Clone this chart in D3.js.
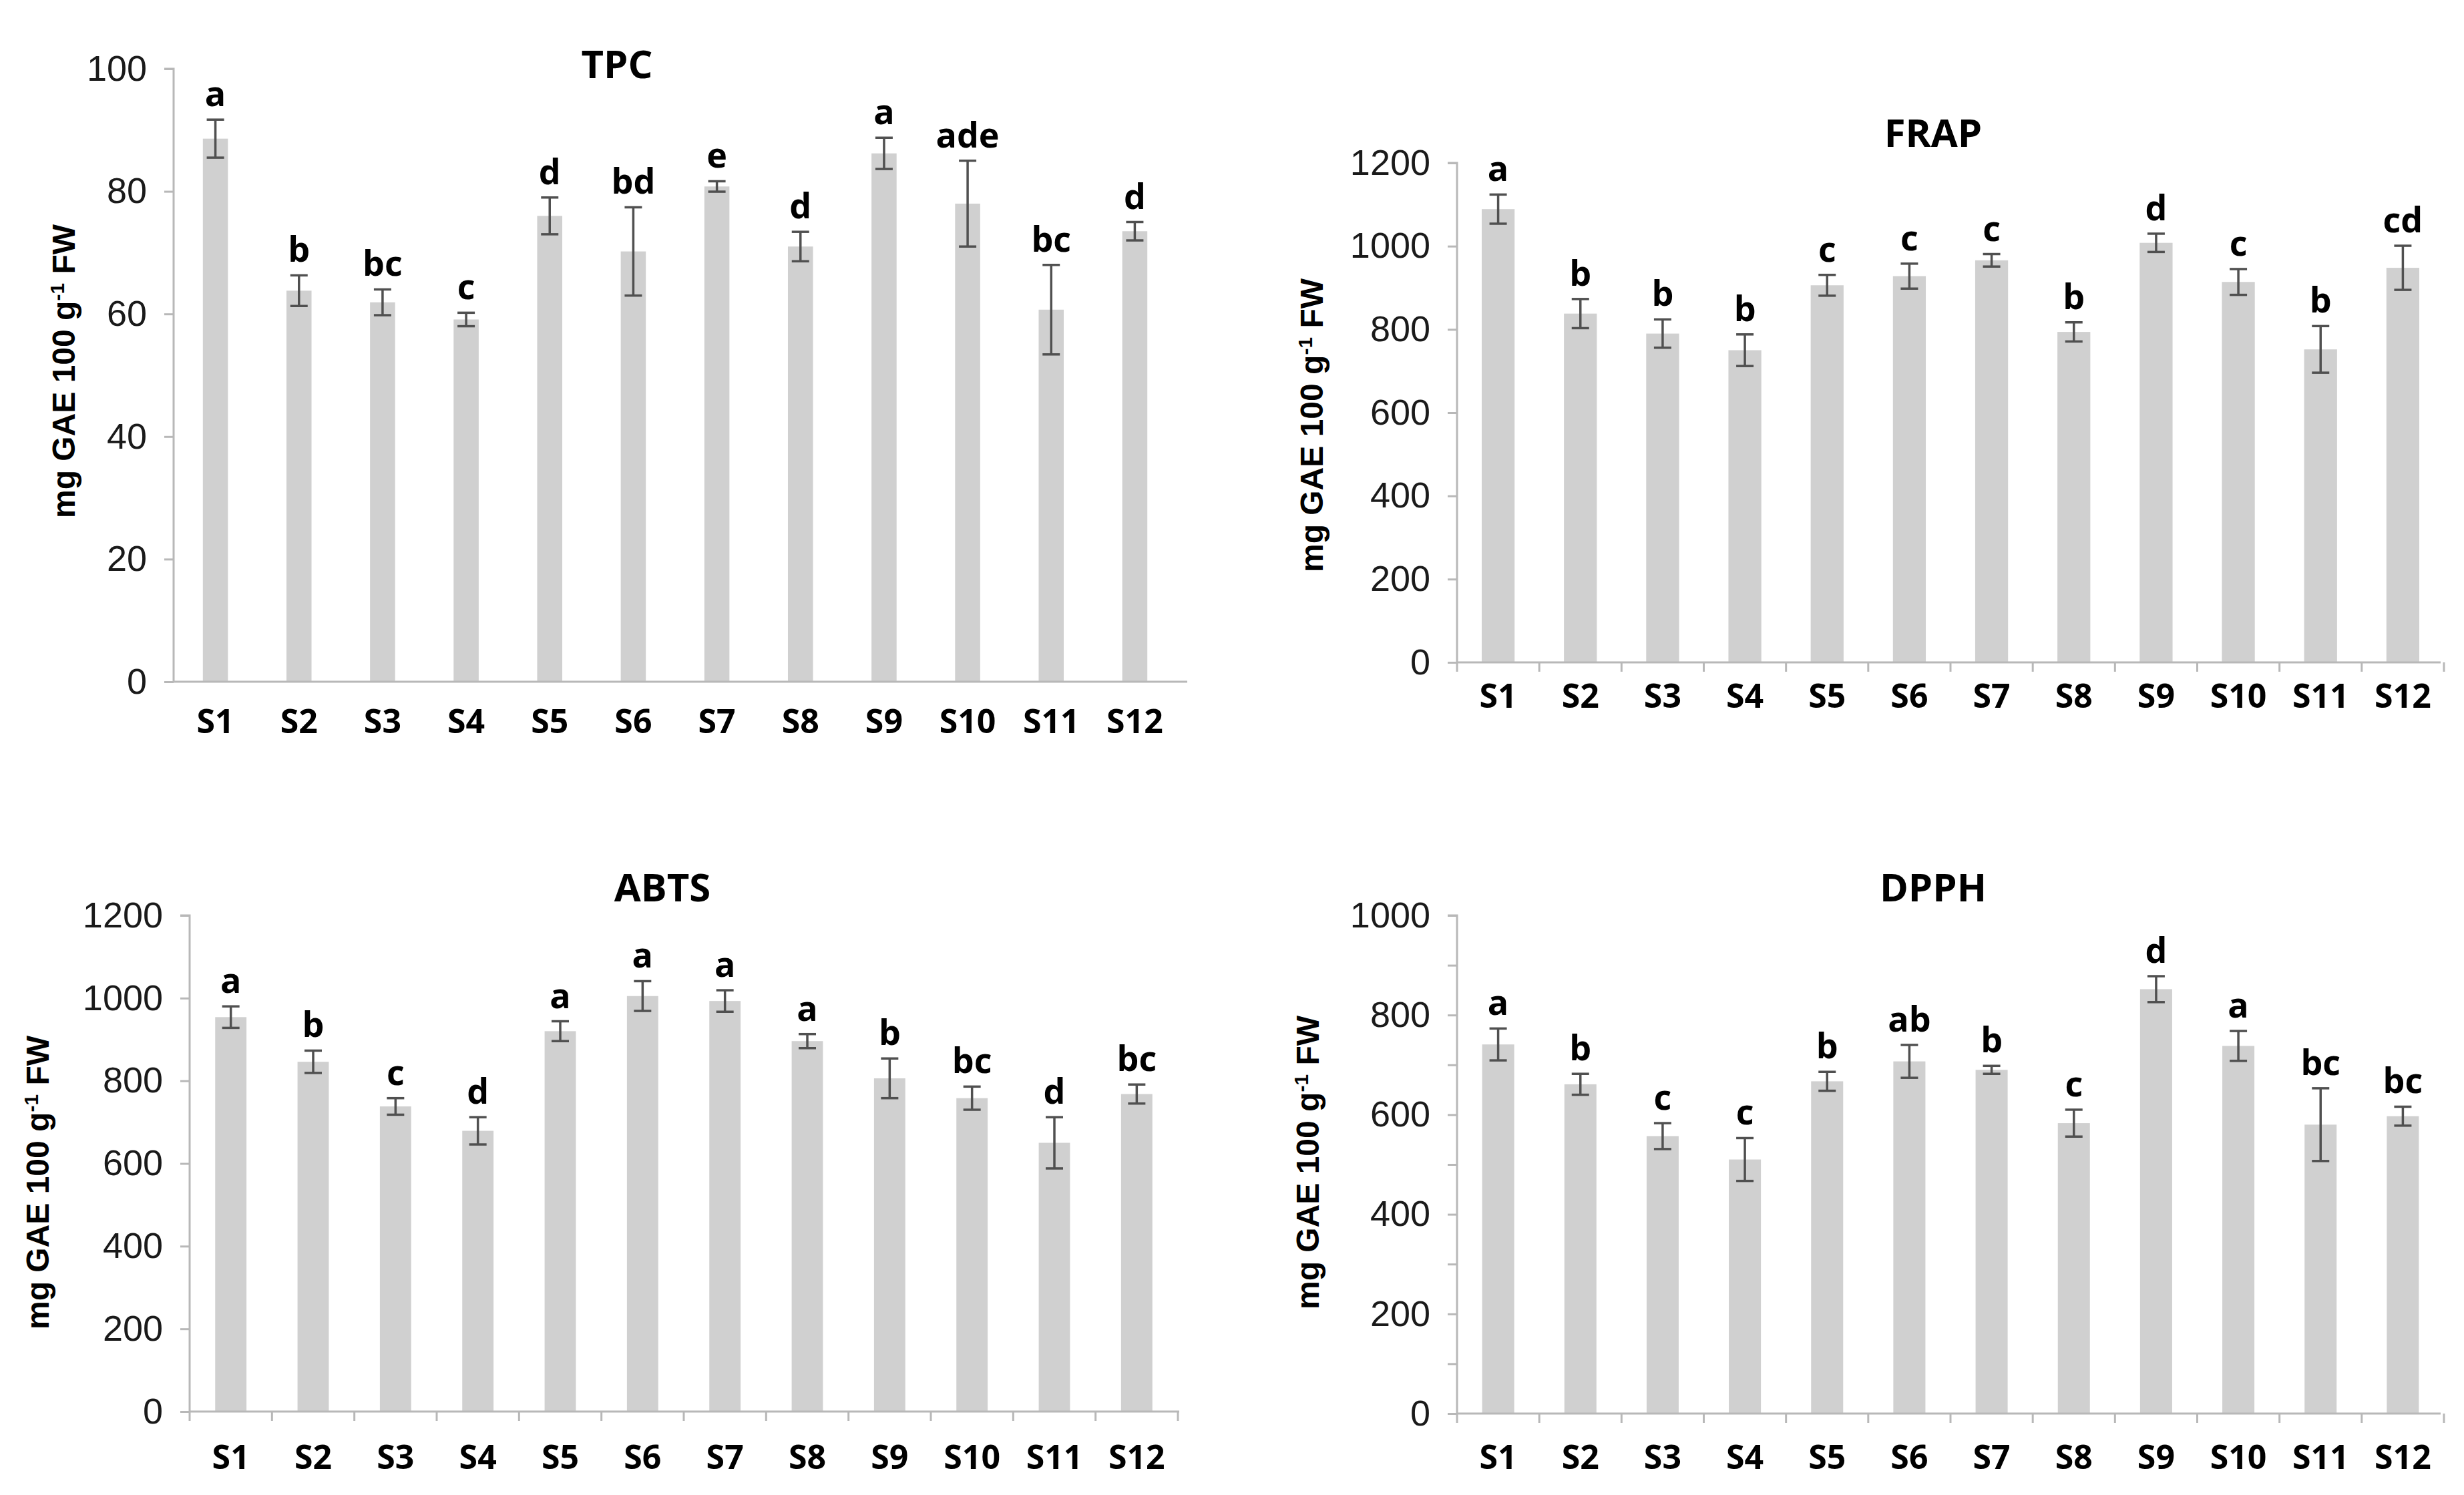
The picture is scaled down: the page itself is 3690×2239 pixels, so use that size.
<!DOCTYPE html>
<html>
<head>
<meta charset="utf-8">
<script src="https://cdn.jsdelivr.net/npm/d3@7"></script>
<style>
  html, body { margin: 0; padding: 0; background: #ffffff; }
  svg { display: block; }
</style>
</head>
<body>
<svg id="chart" width="3690" height="2239"></svg>
<script>
// ---------------- DATA ----------------
const categories = ["S1","S2","S3","S4","S5","S6","S7","S8","S9","S10","S11","S12"];

const tpcMean    = [88.6, 63.8, 61.9, 59.1, 76.0, 70.2, 80.8, 71.0, 86.2, 78.0, 60.7, 73.5];
const tpcErr     = [3.1, 2.5, 2.1, 1.1, 3.0, 7.2, 0.85, 2.4, 2.55, 7.0, 7.3, 1.5];
const tpcLetters = ["a","b","bc","c","d","bd","e","d","a","ade","bc","d"];
const tpcTicks   = [0, 20, 40, 60, 80, 100];

const frapMean    = [1089, 838, 790, 750, 906, 928, 966, 794, 1008, 914, 752, 948];
const frapErr     = [35, 35, 34, 38, 25, 30, 15, 23, 22, 31, 56, 53];
const frapLetters = ["a","b","b","b","c","c","c","b","d","c","b","cd"];
const frapTicks   = [0, 200, 400, 600, 800, 1000, 1200];

const abtsMean    = [954, 846, 738, 679, 920, 1005, 993, 896, 806, 758, 650, 768];
const abtsErr     = [26, 27, 20, 33, 24, 36, 26, 17, 48, 28, 62, 23];
const abtsLetters = ["a","b","c","d","a","a","a","a","b","bc","d","bc"];
const abtsTicks   = [0, 200, 400, 600, 800, 1000, 1200];

const dpphMean    = [741, 661, 557, 510, 667, 707, 690, 583, 852, 738, 580, 597];
const dpphErr     = [32, 21, 26, 43, 19, 33, 8, 27, 26, 30, 73, 19];
const dpphLetters = ["a","b","c","c","b","ab","b","c","d","a","bc","bc"];
const dpphTicks   = [0, 200, 400, 600, 800, 1000];
const dpphMinorTicks = [100, 300, 500, 700, 900];

const titles = ["TPC", "FRAP", "ABTS", "DPPH"];
const yTitleMain = "mg GAE 100 g";
const yTitleSup = "-1";
const yTitleEnd = " FW";

// ---------------- LAYOUT (positions / styles) ----------------
const panels = [
  { title: titles[0], mean: tpcMean, err: tpcErr, letters: tpcLetters, ticks: tpcTicks, minor: [],
    max: 100, xl: 260, xr: 1762, axisEnd: 1778, y0: 1021, yTop: 103, barFrac: 0.30,
    tx: 924, ty: 117, ytx: 95, yty: 556, xly: 1098, xTicks: false },
  { title: titles[1], mean: frapMean, err: frapErr, letters: frapLetters, ticks: frapTicks, minor: [],
    max: 1200, xl: 2182, xr: 3660, axisEnd: 3655, y0: 992, yTop: 244, barFrac: 0.40,
    tx: 2895, ty: 220, ytx: 1964, yty: 637, xly: 1060, xTicks: true },
  { title: titles[2], mean: abtsMean, err: abtsErr, letters: abtsLetters, ticks: abtsTicks, minor: [],
    max: 1200, xl: 284, xr: 1764, axisEnd: 1766, y0: 2114, yTop: 1371, barFrac: 0.38,
    tx: 992, ty: 1350, ytx: 56, yty: 1771, xly: 2200, xTicks: true },
  { title: titles[3], mean: dpphMean, err: dpphErr, letters: dpphLetters, ticks: dpphTicks, minor: dpphMinorTicks,
    max: 1000, xl: 2182, xr: 3660, axisEnd: 3655, y0: 2117, yTop: 1371, barFrac: 0.39,
    tx: 2895, ty: 1350, ytx: 1958, yty: 1741, xly: 2200, xTicks: true }
];

const BAR = "#d0d0d0";
const AXIS = "#b8b8b8";
const ERR = "#505050";
const LETTER_FONT = "'Open Sans', 'DejaVu Sans', sans-serif";
const TICK_FONT = "'Liberation Sans', Arial, sans-serif";

const svg = d3.select("#chart");

panels.forEach(p => {
  const g = svg.append("g");
  const x = d3.scaleBand().domain(categories).range([p.xl, p.xr]).paddingInner(0).paddingOuter(0);
  const y = d3.scaleLinear().domain([0, p.max]).range([p.y0, p.yTop]);
  const data = categories.map((c, i) => ({ c, m: p.mean[i], e: p.err[i], l: p.letters[i] }));
  const bw = x.bandwidth() * p.barFrac;

  // bars
  g.selectAll("rect.bar").data(data).enter().append("rect")
    .attr("class", "bar")
    .attr("x", d => x(d.c) + x.bandwidth() / 2 - bw / 2)
    .attr("width", bw)
    .attr("y", d => y(d.m))
    .attr("height", d => y(0) - y(d.m))
    .attr("fill", BAR);

  // y axis
  const yAxis = d3.axisLeft(y).tickValues(p.ticks).tickSize(14).tickPadding(26).tickFormat(d3.format("d"));
  const ya = g.append("g").attr("transform", `translate(${p.xl},0)`).call(yAxis);
  ya.select(".domain").attr("stroke", AXIS).attr("stroke-width", 3).attr("d", `M-14,${y(p.max)}H0V${y(0)}`);
  ya.selectAll(".tick line").attr("stroke", AXIS).attr("stroke-width", 3);
  ya.selectAll(".tick text").attr("font-family", TICK_FONT).attr("font-size", 54).attr("fill", "#1a1a1a");
  if (p.minor.length) {
    const ym = g.append("g").attr("transform", `translate(${p.xl},0)`)
      .call(d3.axisLeft(y).tickValues(p.minor).tickSize(14).tickFormat(""));
    ym.select(".domain").remove();
    ym.selectAll(".tick line").attr("stroke", AXIS).attr("stroke-width", 3);
  }

  // x axis
  const xAxis = d3.axisBottom(x).tickSize(0).tickPadding(0);
  const xa = g.append("g").attr("transform", `translate(0,${p.y0})`).call(xAxis);
  xa.select(".domain").attr("stroke", AXIS).attr("stroke-width", 3).attr("d", `M${p.xl},0H${p.axisEnd}`);
  xa.selectAll(".tick text")
    .attr("font-family", LETTER_FONT).attr("font-weight", 700).attr("font-size", 50)
    .attr("fill", "#000").attr("dy", null).attr("y", p.xly - p.y0);
  if (p.xTicks) {
    const bounds = categories.map(c => x(c)).concat([x(categories[categories.length - 1]) + x.bandwidth()]);
    xa.selectAll("line.bnd").data(bounds).enter().append("line")
      .attr("class", "bnd")
      .attr("x1", d => d).attr("x2", d => d)
      .attr("y1", 0).attr("y2", 14)
      .attr("stroke", AXIS).attr("stroke-width", 3);
  }

  // error bars
  const cap = 13;
  const eg = g.selectAll("g.err").data(data).enter().append("g").attr("class", "err")
    .attr("stroke", ERR).attr("stroke-width", 3.5);
  eg.append("line")
    .attr("x1", d => x(d.c) + x.bandwidth() / 2).attr("x2", d => x(d.c) + x.bandwidth() / 2)
    .attr("y1", d => y(d.m + d.e)).attr("y2", d => y(d.m - d.e));
  eg.append("line")
    .attr("x1", d => x(d.c) + x.bandwidth() / 2 - cap).attr("x2", d => x(d.c) + x.bandwidth() / 2 + cap)
    .attr("y1", d => y(d.m + d.e)).attr("y2", d => y(d.m + d.e));
  eg.append("line")
    .attr("x1", d => x(d.c) + x.bandwidth() / 2 - cap).attr("x2", d => x(d.c) + x.bandwidth() / 2 + cap)
    .attr("y1", d => y(d.m - d.e)).attr("y2", d => y(d.m - d.e));

  // significance letters
  g.selectAll("text.sig").data(data).enter().append("text")
    .attr("class", "sig")
    .attr("x", d => x(d.c) + x.bandwidth() / 2)
    .attr("y", d => y(d.m + d.e) - 20)
    .attr("text-anchor", "middle")
    .attr("font-family", LETTER_FONT).attr("font-weight", 700).attr("font-size", 52)
    .attr("fill", "#000")
    .text(d => d.l);

  // title
  g.append("text")
    .attr("x", p.tx).attr("y", p.ty)
    .attr("text-anchor", "middle")
    .attr("font-family", LETTER_FONT).attr("font-weight", 700).attr("font-size", 58)
    .attr("fill", "#000")
    .text(p.title);

  // y title
  const yt = g.append("text")
    .attr("transform", `translate(${p.ytx},${p.yty}) rotate(-90)`)
    .attr("text-anchor", "middle")
    .attr("dy", "0.36em")
    .attr("font-family", TICK_FONT).attr("font-weight", 700).attr("font-size", 48)
    .attr("fill", "#000");
  yt.append("tspan").text(yTitleMain);
  yt.append("tspan").attr("baseline-shift", "super").attr("font-size", 30).text(yTitleSup);
  yt.append("tspan").text(yTitleEnd);
});
</script>
</body>
</html>
